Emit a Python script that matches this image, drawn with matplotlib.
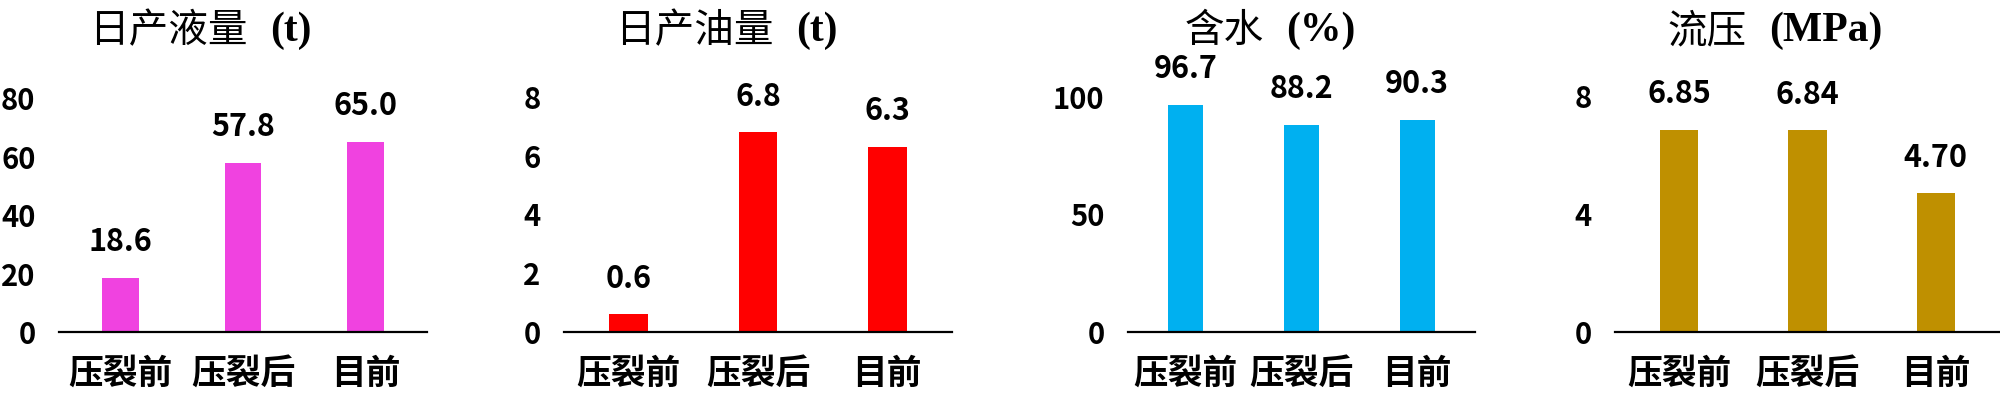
import matplotlib.pyplot as plt

plt.rcParams['font.family'] = ['Noto Sans CJK SC', 'DejaVu Sans']

# 数据
categories = ['压裂前', '压裂后', '目前']
liquid = [18.6, 57.8, 65.0]
oil = [0.6, 6.8, 6.3]
water_cut = [96.7, 88.2, 90.3]
flow_pressure = [6.85, 6.84, 4.70]

series = [liquid, oil, water_cut, flow_pressure]
formats = ['{:.1f}', '{:.1f}', '{:.1f}', '{:.2f}']
yticks = [[0, 20, 40, 60, 80], [0, 2, 4, 6, 8], [0, 50, 100], [0, 4, 8]]
titles_cn = ['日产液量', '日产油量', '含水', '流压']
titles_unit = ['(t)', '(t)', '(%)', '(MPa)']
colors = ['#F042E0', '#FF0000', '#00B0F0', '#BF9000']

# 版面 (像素)
W, H = 2000, 394
ax_left = [59, 564, 1128, 1615]
ax_width = [368, 388, 347, 385]
px_per_unit = [2.925, 29.4, 2.35, 29.5]
title_anchor = [259, 785, 1275, 1758]
y_base, y_top = 332, 60

fig = plt.figure(figsize=(W / 100, H / 100), dpi=100)

for i in range(4):
    ax = fig.add_axes([ax_left[i] / W, (H - y_base) / H,
                       ax_width[i] / W, (y_base - y_top) / H])
    x = range(len(categories))
    bars = ax.bar(x, series[i], width=0.3, color=colors[i])
    ax.set_xlim(-0.5, 2.5)
    ax.set_ylim(0, (y_base - y_top) / px_per_unit[i])
    ax.set_yticks(yticks[i])
    ax.set_xticks(list(x))
    ax.set_xticklabels(categories, fontsize=25, fontweight='bold')
    for lab in ax.get_yticklabels():
        lab.set_fontsize(21)
        lab.set_fontweight('bold')
    ax.tick_params(axis='y', length=0, pad=17)
    ax.tick_params(axis='x', length=0, pad=17)
    for s in ['top', 'right', 'left']:
        ax.spines[s].set_visible(False)
    ax.spines['bottom'].set_linewidth(1.6)
    for b, v in zip(bars, series[i]):
        ax.annotate(formats[i].format(v), (b.get_x() + b.get_width() / 2, v),
                    xytext=(0, 14), textcoords='offset points',
                    ha='center', va='bottom', fontsize=22, fontweight='bold',
                    annotation_clip=False)
    fig.text((title_anchor[i] - 11) / W, 1 - 31 / H, titles_cn[i],
             ha='right', va='center', fontsize=28.5)
    fig.text((title_anchor[i] + 11) / W, 1 - 31 / H, titles_unit[i],
             ha='left', va='center', fontsize=30, fontweight='bold',
             family='Liberation Serif')

fig.savefig('out.png', dpi=100)
